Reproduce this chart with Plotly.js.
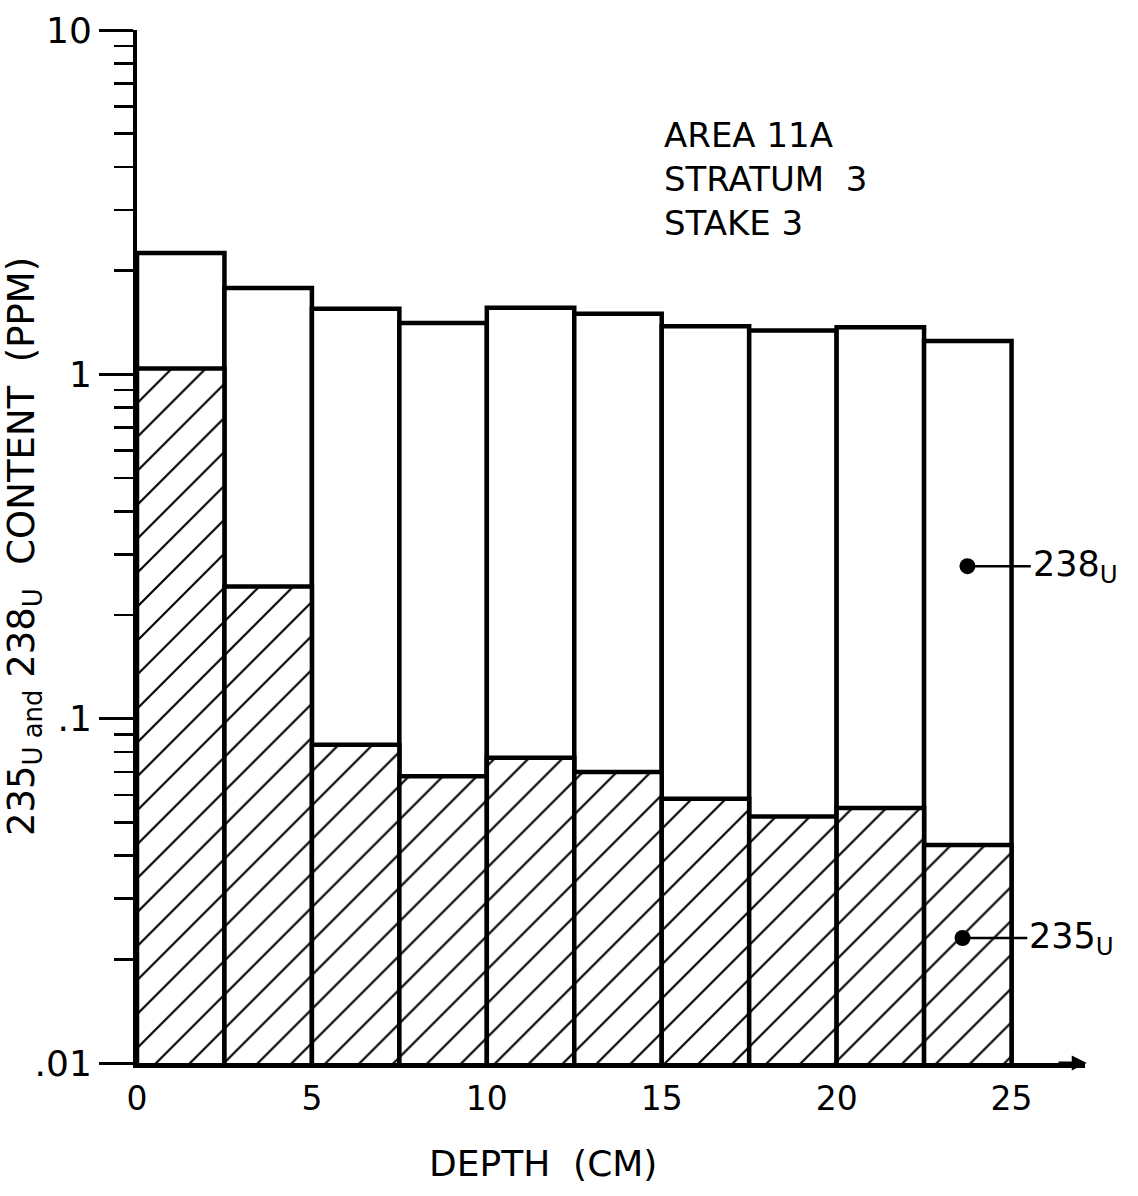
<!DOCTYPE html>
<html>
<head>
<meta charset="utf-8">
<script src="https://cdn.plot.ly/plotly-3.0.1.min.js"></script>
<style>html,body{margin:0;padding:0;background:#fff;}#chart{width:1138px;height:1196px;}</style>
</head>
<body>
<div id="chart"></div>
<script>
// Depth intervals (cm): left edge and width of each interval
const depthStart = [0, 2.5, 5, 7.5, 10, 12.5, 15, 17.5, 20, 22.5];
const depthWidth = 2.5;
// Uranium contents (ppm)
const u238 = [2.25, 1.78, 1.55, 1.41, 1.56, 1.50, 1.38, 1.34, 1.37, 1.25];
const u235 = [1.04, 0.242, 0.084, 0.068, 0.077, 0.070, 0.0585, 0.052, 0.055, 0.043];
// Axis ticks
const yTickVals = [0.01, 0.1, 1, 10];
const yTickText = ['.01', '.1', '1', '10'];
const xTickVals = [0, 5, 10, 15, 20, 25];
const xTickText = ['0', '5', '10', '15', '20', '25'];
const infoLines = ['AREA 11A', 'STRATUM  3', 'STAKE 3'];

const FONT = 'DejaVu Sans, Liberation Sans, sans-serif';

const minorVals = [];
[0.01, 0.1, 1].forEach(d => { for (let k = 2; k <= 9; k++) minorVals.push(+(d * k).toPrecision(3)); });

const centers = depthStart.map(s => s + depthWidth / 2);

const traces = [
  {
    type: 'bar', name: '238U', x: centers, y: u238, width: depthWidth,
    marker: { color: 'white', line: { color: 'black', width: 4.5 } },
    hoverinfo: 'skip'
  },
  {
    type: 'bar', name: '235U', x: centers, y: u235, width: depthWidth,
    marker: {
      color: 'white', line: { color: 'black', width: 4.5 },
      pattern: { shape: '/', size: 24, solidity: 0.09, fgcolor: 'black', bgcolor: 'white', fillmode: 'replace' }
    },
    hoverinfo: 'skip'
  }
];

const layout = {
  width: 1138, height: 1196,
  margin: { l: 137, r: 53, t: 30, b: 133 },
  paper_bgcolor: 'white', plot_bgcolor: 'white',
  barmode: 'overlay', bargap: 0,
  showlegend: false,
  font: { family: FONT, color: 'black', size: 32 },
  xaxis: {
    range: [0, 27.1], showgrid: false, zeroline: false,
    showline: true, linecolor: 'black', linewidth: 5,
    tickmode: 'array', tickvals: xTickVals, ticktext: xTickText,
    ticks: '', ticklabelstandoff: 2,
    tickfont: { family: FONT, size: 33, color: 'black' }
  },
  yaxis: {
    type: 'log', range: [-2, 1], showgrid: false, zeroline: false,
    showline: true, linecolor: 'black', linewidth: 4,
    tickmode: 'array', tickvals: yTickVals, ticktext: yTickText,
    ticks: 'outside', ticklen: 34, tickwidth: 3, tickcolor: 'black',
    tickfont: { family: FONT, size: 36, color: 'black' },
    minor: { tickmode: 'array', tickvals: minorVals, ticks: 'outside', ticklen: 19, tickwidth: 2.5, tickcolor: 'black', showgrid: false },
    title: { text: '235<sub>U and</sub> 238<sub>U</sub>  CONTENT  (PPM)', font: { family: FONT, size: 37, color: 'black' }, standoff: 22 }
  },
  annotations: [
    {
      xref: 'paper', yref: 'paper', x: 0.428, y: -0.097, xanchor: 'center', yanchor: 'middle',
      text: 'DEPTH  (CM)', showarrow: false,
      font: { family: FONT, size: 36, color: 'black' }
    },
    {
      xref: 'x', yref: 'y', x: 15.0, y: 0.76, xanchor: 'left', yanchor: 'top', align: 'left',
      text: infoLines.join('<br>'), showarrow: false,
      font: { family: FONT, size: 34, color: 'black' }
    },
    {
      xref: 'x', yref: 'y', x: 23.74, y: -0.557, axref: 'x', ayref: 'y', ax: 25.55, ay: -0.557,
      xanchor: 'left', text: '238<sub>U</sub>', showarrow: true, arrowhead: 6, arrowsize: 1.6, arrowwidth: 2.5,
      arrowcolor: 'black', standoff: 0, startstandoff: 0, font: { family: FONT, size: 35, color: 'black' }
    },
    {
      xref: 'x', yref: 'y', x: 23.6, y: -1.637, axref: 'x', ayref: 'y', ax: 25.45, ay: -1.637,
      xanchor: 'left', text: '235<sub>U</sub>', showarrow: true, arrowhead: 6, arrowsize: 1.6, arrowwidth: 2.5,
      arrowcolor: 'black', standoff: 0, startstandoff: 0, font: { family: FONT, size: 35, color: 'black' }
    },
    {
      xref: 'x', yref: 'y', x: 27.15, y: -2, axref: 'x', ayref: 'y', ax: 26.3, ay: -2,
      text: '', showarrow: true, arrowhead: 2, arrowsize: 1, arrowwidth: 3, arrowcolor: 'black'
    }
  ]
};

Plotly.newPlot('chart', traces, layout, { staticPlot: true, displayModeBar: false });
</script>
</body>
</html>
